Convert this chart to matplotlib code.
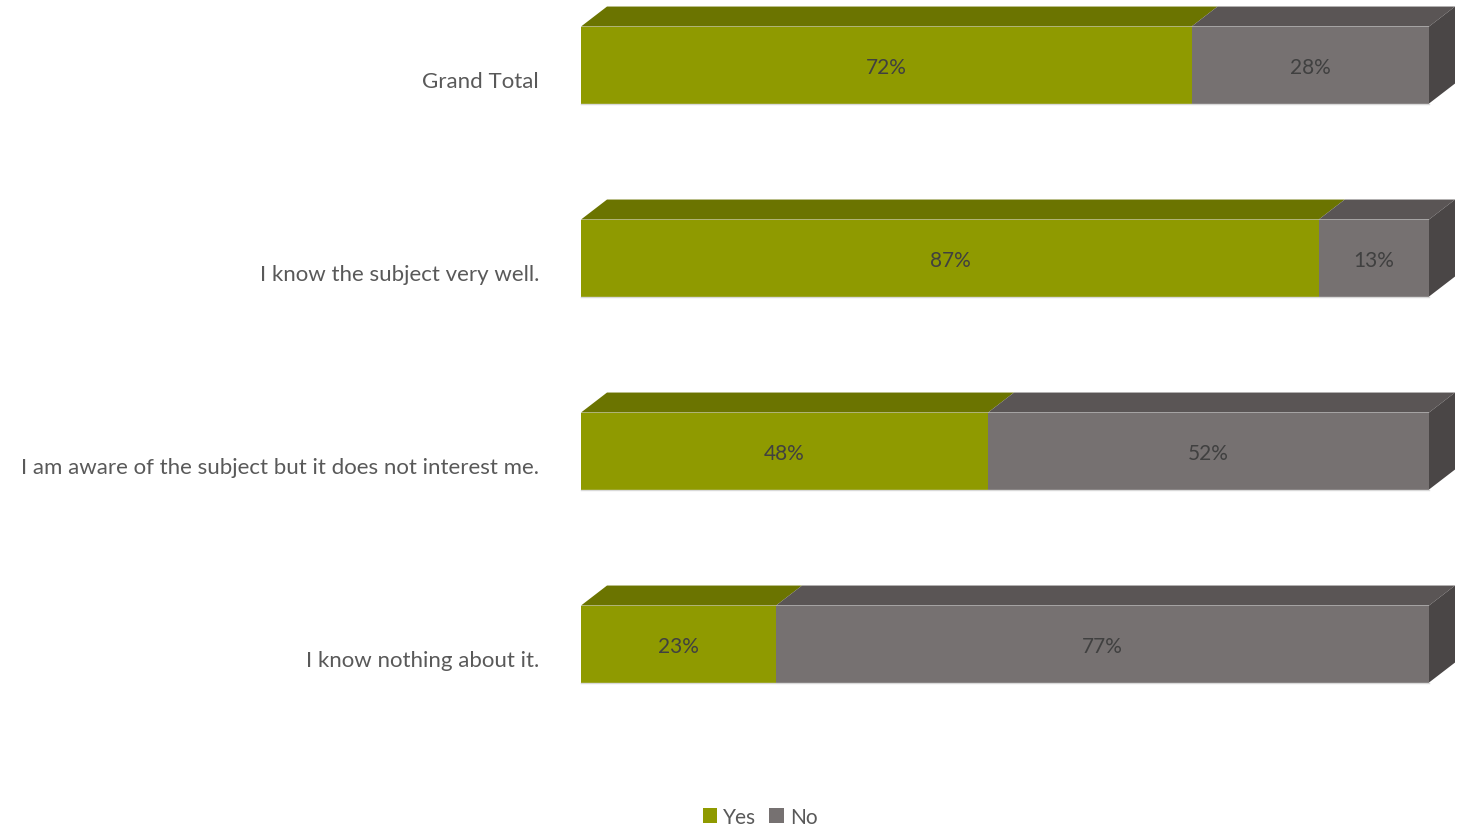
import matplotlib.pyplot as plt
from matplotlib.patches import Polygon, Rectangle

plt.rcParams['font.family'] = ['Lato', 'DejaVu Sans']

categories = ['Grand Total', 'I know the subject very well.',
              'I am aware of the subject but it does not interest me.',
              'I know nothing about it.']
yes = [72, 87, 48, 23]
no = [28, 13, 52, 77]

front = {'Yes': '#8f9a00', 'No': '#767171'}
top = {'Yes': '#6b7400', 'No': '#5a5555'}
side = '#4a4646'

W, H = 1458, 828
fig = plt.figure(figsize=(W / 100, H / 100), dpi=100)
# axes: x 0..100 spans the front faces, y in category units
ax = fig.add_axes([581 / W, 1 - 773 / H, 848 / W, 772 / H])
ax.set_xlim(0, 100)
ax.set_ylim(3.663, -0.337)
ax.axis('off')

h = 77 / 193      # bar thickness
dx = 26 / 8.48    # depth offset in x
dy = 20 / 193     # depth offset in y

for i, cat in enumerate(categories):
    y0, y1 = i - h / 2, i + h / 2
    start = 0
    for name, vals in (('Yes', yes), ('No', no)):
        v = vals[i]
        x0, x1 = start, start + v
        ax.add_patch(Rectangle((x0, y0), v, h, facecolor=front[name],
                               edgecolor='none', clip_on=False))
        ax.add_patch(Polygon([(x0, y0), (x1, y0), (x1 + dx, y0 - dy),
                              (x0 + dx, y0 - dy)], closed=True,
                             facecolor=top[name], edgecolor='none',
                             clip_on=False))
        ax.text((x0 + x1) / 2, i + 0.01, f'{v}%', ha='center', va='center',
                fontsize=15, color='#404040')
        start = x1
    ax.add_patch(Polygon([(start, y0), (start + dx, y0 - dy),
                          (start + dx, y1 - dy), (start, y1)], closed=True,
                         facecolor=side, edgecolor='none', clip_on=False))
    # thin light floor line under the front face
    ax.plot([0, 100], [y1 + 0.004, y1 + 0.004], color='#d9d9d9', lw=1,
            clip_on=False)
    ax.text(-4.95, i + 0.083, cat, ha='right', va='center', fontsize=16,
            color='#595959')

handles = [Rectangle((0, 0), 1, 1, facecolor=front[k]) for k in ('Yes', 'No')]
fig.legend(handles, ['Yes', 'No'], loc='center', bbox_to_anchor=(760 / W, 1 - 818 / H),
           ncol=2, frameon=False, fontsize=15, handlelength=0.7,
           handleheight=0.7, handletextpad=0.3, columnspacing=0.6,
           labelcolor='#595959')

fig.savefig('out.png', dpi=100)
